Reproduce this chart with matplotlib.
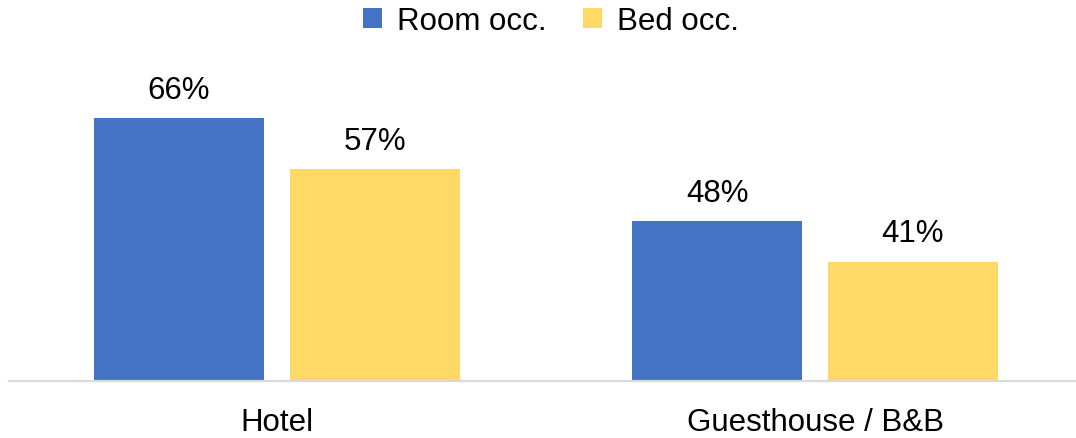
import matplotlib
matplotlib.use('Agg')
import numpy as np
import matplotlib.pyplot as plt
from matplotlib.patches import Patch

plt.rcParams['font.family'] = ['Liberation Sans', 'DejaVu Sans']

categories = ['Hotel', 'Guesthouse / B&B']
series_names = ['Room occ.', 'Bed occ.']
room_occ = [66, 48]
bed_occ = [57, 41]
colors = ['#4472C4', '#FFD966']

fs = 22.5

fig = plt.figure(figsize=(10.76, 4.39), dpi=100)
# axes: bottom at the baseline, right edge at the figure edge
ax = fig.add_axes([9 / 1076, 57.5 / 439, 1 - 9 / 1076, 340 / 439])

x = np.arange(len(categories))
bar_w = 0.316
off = 0.182

for vals, shift, col in [(room_occ, -off, colors[0]), (bed_occ, off, colors[1])]:
    bars = ax.bar(x + shift, vals, width=bar_w, color=col, bottom=0, zorder=2)
    for b, v in zip(bars, vals):
        ax.annotate(f'{v}%', (b.get_x() + b.get_width() / 2, v),
                    xytext=(0, 14.5), textcoords='offset points',
                    ha='center', va='baseline', fontsize=fs, color='black')

ax.set_xlim(-0.498, 1.485)
ax.set_ylim(20.34, 79.4)

for s in ['top', 'right', 'left']:
    ax.spines[s].set_visible(False)
ax.spines['bottom'].set_color('#d9d9d9')
ax.spines['bottom'].set_linewidth(1.6)
ax.spines['bottom'].set_zorder(3)
ax.set_yticks([])
ax.set_xticks(x)
ax.set_xticklabels(categories, fontsize=fs)
ax.tick_params(axis='x', length=0, pad=19)

handles = [Patch(facecolor=c, edgecolor='none') for c in colors]
fig.legend(handles, series_names, loc='center', bbox_to_anchor=(551 / 1076, 1 - 22 / 439),
           ncol=2, frameon=False, fontsize=fs, handlelength=0.6, handleheight=0.6,
           handletextpad=0.5, columnspacing=1.15)

fig.savefig('out.png', dpi=100)
